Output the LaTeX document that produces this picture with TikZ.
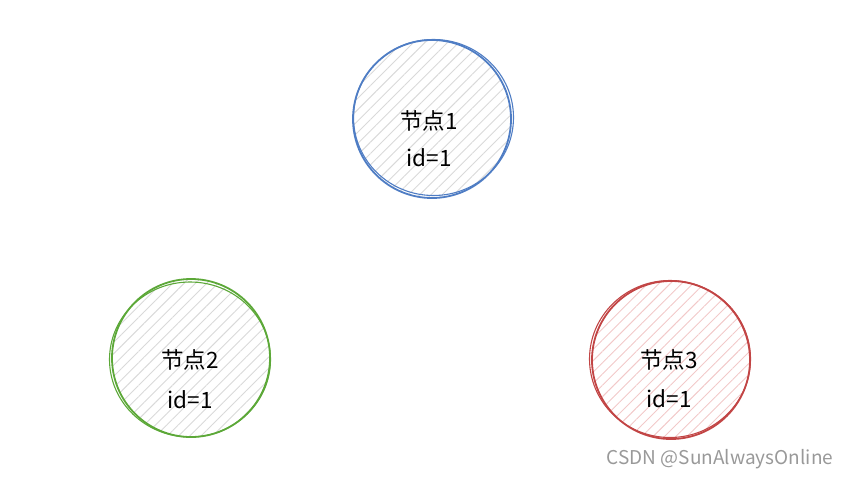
\documentclass[tikz,border=0pt]{standalone}
\usepackage{fontspec}
\setmainfont{Noto Sans CJK SC}
\usetikzlibrary{patterns.meta}
\newlength{\du}
\setlength{\du}{1pt}

\begin{document}
\begin{tikzpicture}
\pgftransformxscale{1.000000}
\pgftransformyscale{-1.000000}
\useasboundingbox (0\du,0\du) rectangle (864\du,490\du);
\tikzset{
  ringnode/.style={circle, inner sep=0pt, minimum size=158\du, line width=1.8\du},
  hatched/.style={pattern={Lines[angle=45,distance=8pt,line width=0.9pt]}, pattern color=#1},
  labeltext/.style={inner sep=0pt, font=\fontsize{22.5}{26}\selectfont},
}
\definecolor{hatchgray}{rgb}{0.850000, 0.850000, 0.850000}
\definecolor{hatchred}{rgb}{0.950000, 0.790000, 0.790000}
\definecolor{ringblue}{rgb}{0.310000, 0.490000, 0.770000}
\definecolor{ringgreen}{rgb}{0.360000, 0.660000, 0.220000}
\definecolor{ringred}{rgb}{0.760000, 0.270000, 0.270000}
\definecolor{markgray}{rgb}{0.600000, 0.600000, 0.600000}
% ring 1
\node[ringnode, draw=ringblue, hatched=hatchgray] (n1) at (432.000000\du,119.000000\du){};
\draw[ringblue, line width=1.100000\du] ([shift={(1.500000\du,-1.500000\du)}]n1.center) ellipse [x radius=80.000000\du, y radius=78.000000\du];
% ring 2
\node[ringnode, draw=ringgreen, hatched=hatchgray] (n2) at (191.000000\du,358.000000\du){};
\draw[ringgreen, line width=1.100000\du] ([shift={(-1.000000\du,1.500000\du)}]n2.center) ellipse [x radius=80.500000\du, y radius=77.500000\du];
% ring 3
\node[ringnode, draw=ringred, hatched=hatchred] (n3) at (671.000000\du,360.000000\du){};
\draw[ringred, line width=1.100000\du] ([shift={(-1.000000\du,-1.000000\du)}]n3.center) ellipse [x radius=80.500000\du, y radius=78.500000\du];
% setfont left to latex
\node[labeltext] (n1name) at (429.000000\du,121.000000\du){节点1};
\node[labeltext] (n1id) at (429.000000\du,158.000000\du){id=1};
% setfont left to latex
\node[labeltext] (n2name) at (190.000000\du,360.000000\du){节点2};
\node[labeltext] (n2id) at (190.000000\du,400.000000\du){id=1};
% setfont left to latex
\node[labeltext] (n3name) at (669.000000\du,360.000000\du){节点3};
\node[labeltext] (n3id) at (669.000000\du,399.000000\du){id=1};
% setfont left to latex
\node[inner sep=0pt, text=markgray, font=\fontsize{19}{22}\selectfont] (mark) at (720.000000\du,459.000000\du){CSDN @SunAlwaysOnline};
\end{tikzpicture}
\end{document}
